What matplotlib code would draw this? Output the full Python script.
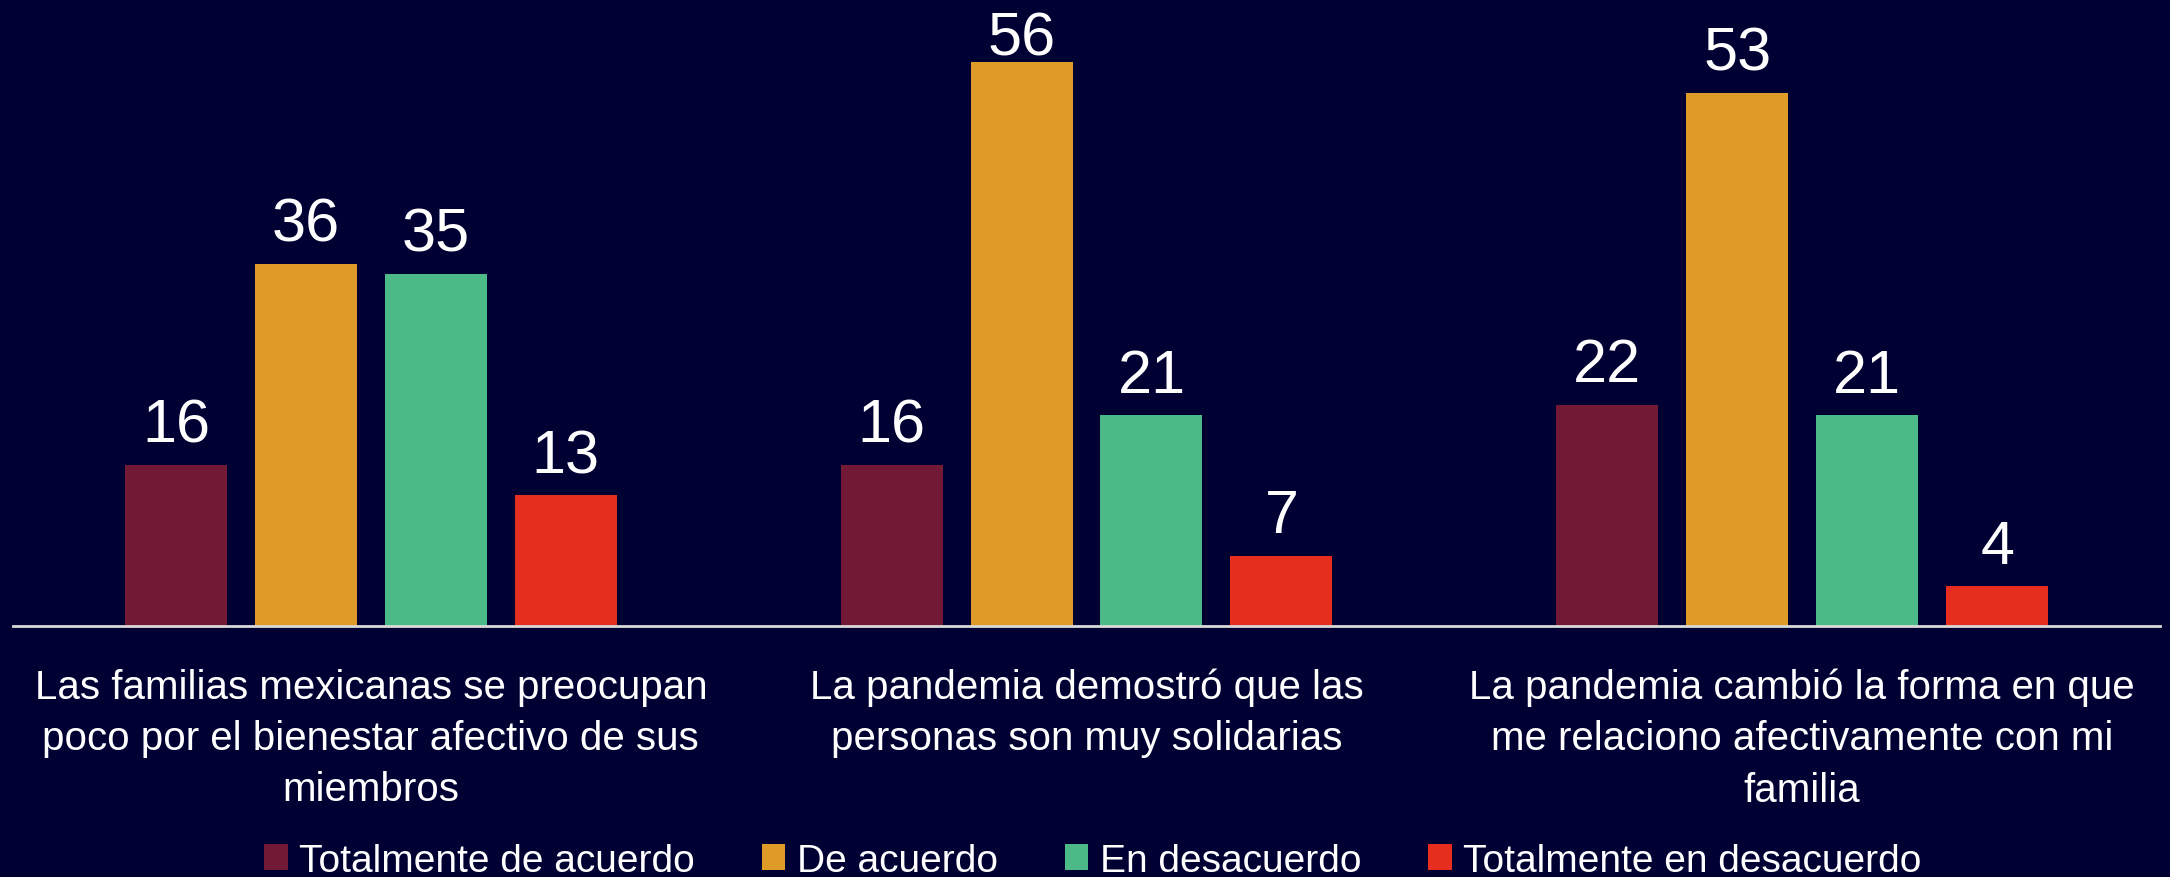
import matplotlib.pyplot as plt
import numpy as np

plt.rcParams['font.family'] = ['Liberation Sans', 'DejaVu Sans']

# survey statements (x categories)
categories = [
    "Las familias mexicanas se preocupan\npoco por el bienestar afectivo de sus\nmiembros",
    "La pandemia demostró que las\npersonas son muy solidarias",
    "La pandemia cambió la forma en que\nme relaciono afectivamente con mi\nfamilia",
]
series_names = ["Totalmente de acuerdo", "De acuerdo", "En desacuerdo", "Totalmente en desacuerdo"]
totalmente_acuerdo = [16, 16, 22]
de_acuerdo = [36, 56, 53]
en_desacuerdo = [35, 21, 21]
totalmente_desacuerdo = [13, 7, 4]

colors = ["#721A35", "#E09A28", "#4BBA87", "#E52E1D"]
bg = "#000033"

W, H = 2170, 878
fig = plt.figure(figsize=(W / 100, H / 100), dpi=100, facecolor=bg)
ax = fig.add_axes([13 / W, 1 - 627 / H, 2147 / W, 627 / H], facecolor=bg)

ytop = 62.3
x = np.arange(len(categories))
pitch = 0.1816
width = 0.1425
all_series = [totalmente_acuerdo, de_acuerdo, en_desacuerdo, totalmente_desacuerdo]
for i, vals in enumerate(all_series):
    pos = x + (i - 1.5) * pitch
    bars = ax.bar(pos, vals, width, color=colors[i], label=series_names[i], zorder=2)
    for b, v in zip(bars, vals):
        # labels are kept inside the plot area, like the original
        ylab = min(v + 2.3, ytop - 5.5)
        ax.text(b.get_x() + b.get_width() / 2, ylab, str(v), ha="center",
                va="baseline", color="white", fontsize=44)

ax.set_xlim(-0.5, 2.5)
ax.set_ylim(0, ytop)
ax.set_yticks([])
ax.set_xticks(x)
ax.set_xticklabels(categories, color="white", fontsize=29, linespacing=1.44)
ax.tick_params(axis="x", length=0, pad=30)
for s in ["top", "left", "right"]:
    ax.spines[s].set_visible(False)
ax.spines["bottom"].set_color("#D9D9D9")
ax.spines["bottom"].set_linewidth(2)

leg = fig.legend(loc="center", bbox_to_anchor=(1093 / W, 1 - 862 / H), ncol=4,
                 frameon=False, fontsize=28, handlelength=0.6, handleheight=0.65,
                 handletextpad=0.3, columnspacing=1.72, labelcolor="white")

fig.savefig("out.png", dpi=100, facecolor=bg)
